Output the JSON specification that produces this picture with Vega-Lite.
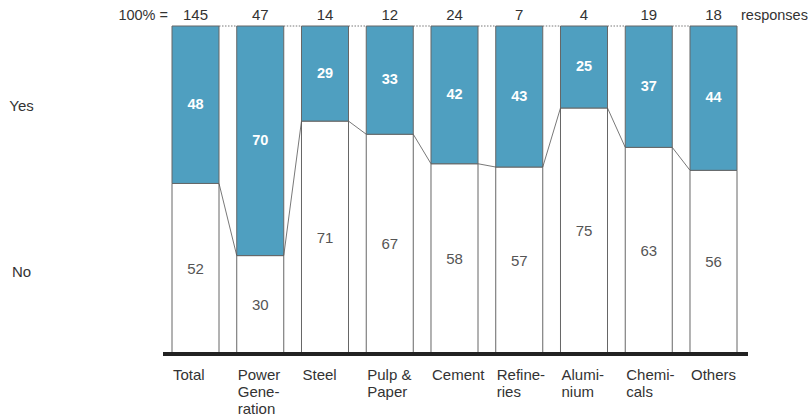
{
  "$schema": "https://vega.github.io/schema/vega-lite/v6.json",
  "width": 585,
  "height": 328,
  "autosize": {"type": "none"},
  "padding": {"left": 163, "top": 26, "right": 60, "bottom": 63},
  "background": "white",
  "config": {"view": {"stroke": null}, "font": "Liberation Sans"},
  "data": {
    "values": [
      {"cat": "Total", "label": "Total", "n": 145, "yes": 48, "no": 52},
      {"cat": "Power Generation", "label": "Power|Gene-|ration", "n": 47, "yes": 70, "no": 30},
      {"cat": "Steel", "label": "Steel", "n": 14, "yes": 29, "no": 71},
      {"cat": "Pulp & Paper", "label": "Pulp &|Paper", "n": 12, "yes": 33, "no": 67},
      {"cat": "Cement", "label": "Cement", "n": 24, "yes": 42, "no": 58},
      {"cat": "Refineries", "label": "Refine-|ries", "n": 7, "yes": 43, "no": 57},
      {"cat": "Aluminium", "label": "Alumi-|nium", "n": 4, "yes": 25, "no": 75},
      {"cat": "Chemicals", "label": "Chemi-|cals", "n": 19, "yes": 37, "no": 63},
      {"cat": "Others", "label": "Others", "n": 18, "yes": 44, "no": 56}
    ]
  },
  "layer": [
    {
      "mark": {"type": "bar", "fill": "white", "stroke": "#666666", "strokeWidth": 1},
      "encoding": {
        "x": {"field": "cat", "type": "nominal", "sort": null, "axis": null,
              "scale": {"type": "band", "range": [9, 574], "paddingInner": 0.274, "paddingOuter": 0}},
        "y": {"field": "no", "type": "quantitative", "scale": {"domain": [0, 100], "nice": false},
              "axis": {"title": null, "values": [25.3, 75.9], "labelExpr": "datum.value > 50 ? 'Yes' : 'No'",
                       "domain": false, "ticks": false, "grid": false, "labelPadding": 142,
                       "labelAlign": "center", "labelFontSize": 15, "labelColor": "#333333", "labelFont": "Liberation Sans"}},
        "y2": {"datum": 0}
      }
    },
    {
      "mark": {"type": "bar", "fill": "#4f9fc0", "stroke": "#666666", "strokeWidth": 1},
      "encoding": {
        "x": {"field": "cat", "type": "nominal", "sort": null, "axis": null},
        "y": {"field": "no", "type": "quantitative"},
        "y2": {"datum": 100}
      }
    },
    {
      "transform": [
        {"window": [{"op": "lead", "field": "cat", "as": "nextCat"}, {"op": "lead", "field": "no", "as": "nextNo"}]},
        {"filter": "datum.nextCat != null"}
      ],
      "mark": {"type": "rule", "stroke": "#555555", "strokeWidth": 0.8},
      "encoding": {
        "x": {"field": "cat", "type": "nominal", "sort": null, "axis": null, "bandPosition": 1},
        "x2": {"field": "nextCat", "bandPosition": 0},
        "y": {"field": "no", "type": "quantitative"},
        "y2": {"field": "nextNo"}
      }
    },
    {
      "transform": [
        {"window": [{"op": "lead", "field": "cat", "as": "nextCat"}]},
        {"filter": "datum.nextCat != null"}
      ],
      "mark": {"type": "rule", "stroke": "#555555", "strokeWidth": 0.8, "strokeDash": [1.5, 1.5]},
      "encoding": {
        "x": {"field": "cat", "type": "nominal", "sort": null, "axis": null, "bandPosition": 1},
        "x2": {"field": "nextCat", "bandPosition": 0},
        "y": {"datum": 100},
        "y2": {"datum": 100}
      }
    },
    {
      "transform": [{"calculate": "(datum.no + 100) / 2", "as": "yesMid"}],
      "mark": {"type": "text", "color": "white", "fontWeight": "bold", "fontSize": 14.5, "baseline": "middle"},
      "encoding": {
        "x": {"field": "cat", "type": "nominal", "sort": null, "axis": null, "bandPosition": 0.5},
        "y": {"field": "yesMid", "type": "quantitative"},
        "text": {"field": "yes"}
      }
    },
    {
      "transform": [{"calculate": "datum.no / 2", "as": "noMid"}],
      "mark": {"type": "text", "color": "#555555", "fontSize": 15, "baseline": "middle"},
      "encoding": {
        "x": {"field": "cat", "type": "nominal", "sort": null, "axis": null, "bandPosition": 0.5},
        "y": {"field": "noMid", "type": "quantitative"},
        "text": {"field": "no"}
      }
    },
    {
      "mark": {"type": "text", "color": "#333333", "fontSize": 15, "baseline": "bottom", "dy": -3},
      "encoding": {
        "x": {"field": "cat", "type": "nominal", "sort": null, "axis": null, "bandPosition": 0.5},
        "y": {"datum": 100},
        "text": {"field": "n"}
      }
    },
    {
      "transform": [{"filter": "datum.cat == 'Total'"}],
      "mark": {"type": "text", "color": "#333333", "fontSize": 14.5, "baseline": "bottom", "dy": -3, "align": "right", "dx": -4, "text": "100% ="},
      "encoding": {
        "x": {"field": "cat", "type": "nominal", "sort": null, "axis": null, "bandPosition": 0},
        "y": {"datum": 100}
      }
    },
    {
      "transform": [{"filter": "datum.cat == 'Others'"}],
      "mark": {"type": "text", "color": "#333333", "fontSize": 14.5, "baseline": "bottom", "dy": -3, "align": "left", "dx": 4, "text": "responses"},
      "encoding": {
        "x": {"field": "cat", "type": "nominal", "sort": null, "axis": null, "bandPosition": 1},
        "y": {"datum": 100}
      }
    },
    {
      "mark": {"type": "text", "color": "#333333", "fontSize": 15, "baseline": "top", "align": "left", "dy": 14, "dx": 1, "lineBreak": "|", "lineHeight": 17},
      "encoding": {
        "x": {"field": "cat", "type": "nominal", "sort": null, "axis": null, "bandPosition": 0},
        "y": {"datum": 0},
        "text": {"field": "label"}
      }
    },
    {
      "mark": {"type": "rule", "stroke": "#222222", "strokeWidth": 4},
      "encoding": {"y": {"datum": 0}}
    }
  ]
}
